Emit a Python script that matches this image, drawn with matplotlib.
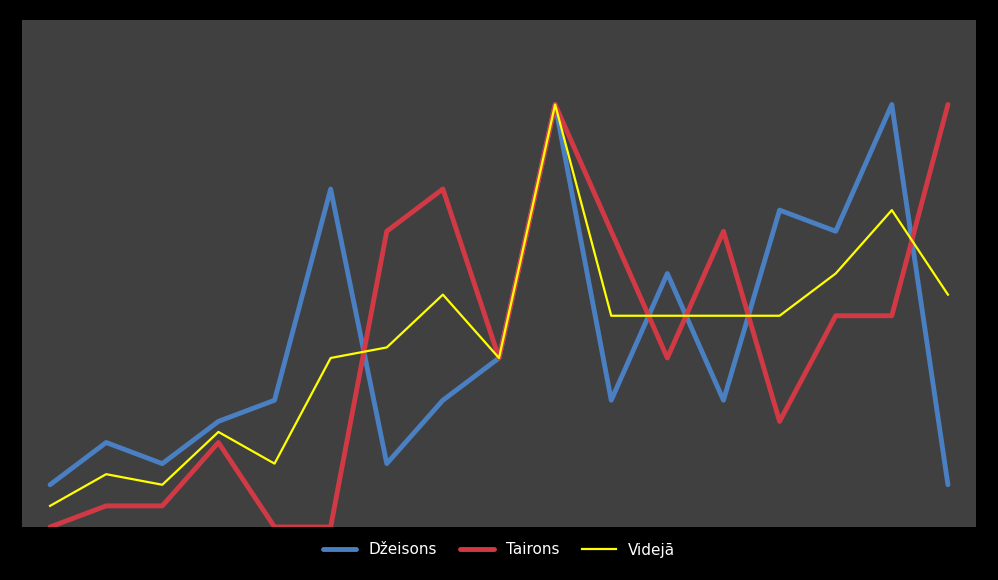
import matplotlib
matplotlib.use("Agg")
import matplotlib.pyplot as plt

x = list(range(17))
dzeisons = [2, 4, 3, 5, 6, 16, 3, 6, 8, 20, 6, 12, 6, 15, 14, 20, 2]
tairons = [0, 1, 1, 4, 0, 0, 14, 16, 8, 20, 14, 8, 14, 5, 10, 10, 20]
videja = [(a + b) / 2 for a, b in zip(dzeisons, tairons)]

fig = plt.figure(figsize=(9.98, 5.8), dpi=100, facecolor="black")
ax = fig.add_axes([22/998, 1-527/580, 954/998, 507/580])
ax.set_facecolor("#404040")
ax.plot(x, dzeisons, color="#4a7fc1", lw=3.5, label="Džeisons", solid_capstyle="round")
ax.plot(x, tairons, color="#d13a45", lw=3.5, label="Tairons", solid_capstyle="round")
ax.plot(x, videja, color="#ffff00", lw=1.6, label="Videjā")
ax.set_xlim(-0.5, 16.5)
ax.set_ylim(0, 24)
ax.set_xticks([]); ax.set_yticks([])
for s in ax.spines.values():
    s.set_visible(False)
leg = fig.legend(loc="center", bbox_to_anchor=(0.5, 1-550/580), ncol=3, frameon=False,
                 fontsize=11, labelcolor="white", handlelength=2.2, columnspacing=1.5)
fig.savefig("out.png", dpi=100, facecolor="black")
